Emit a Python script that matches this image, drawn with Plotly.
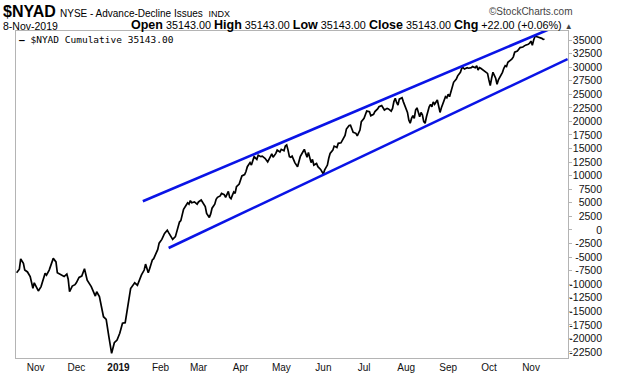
import plotly.graph_objects as go

# ---- data ----
dates = [
    "2018-10-15", "2018-10-17", "2018-10-18", "2018-10-20", "2018-10-21", "2018-10-23",
    "2018-10-25", "2018-10-27", "2018-10-28", "2018-10-31", "2018-11-02", "2018-11-05",
    "2018-11-06", "2018-11-08", "2018-11-11", "2018-11-13", "2018-11-14", "2018-11-17",
    "2018-11-19", "2018-11-21", "2018-11-22", "2018-11-23", "2018-11-25", "2018-11-27",
    "2018-11-28", "2018-11-30", "2018-12-02", "2018-12-04", "2018-12-06", "2018-12-09",
    "2018-12-12", "2018-12-13", "2018-12-15", "2018-12-18", "2018-12-20", "2018-12-22",
    "2018-12-24", "2018-12-26", "2018-12-28", "2018-12-30", "2019-01-01", "2019-01-03",
    "2019-01-05", "2019-01-07", "2019-01-10", "2019-01-12", "2019-01-15", "2019-01-17",
    "2019-01-18", "2019-01-20", "2019-01-21", "2019-01-23", "2019-01-24", "2019-01-26",
    "2019-01-27", "2019-01-28", "2019-01-30", "2019-02-01", "2019-02-03", "2019-02-04",
    "2019-02-06", "2019-02-07", "2019-02-09", "2019-02-10", "2019-02-11", "2019-02-12",
    "2019-02-13", "2019-02-14", "2019-02-15", "2019-02-17", "2019-02-18", "2019-02-19",
    "2019-02-20", "2019-02-21", "2019-02-23", "2019-02-25", "2019-02-26", "2019-02-28",
    "2019-03-01", "2019-03-03", "2019-03-04", "2019-03-06", "2019-03-07", "2019-03-08",
    "2019-03-10", "2019-03-11", "2019-03-12", "2019-03-14", "2019-03-15", "2019-03-17",
    "2019-03-18", "2019-03-19", "2019-03-20", "2019-03-21", "2019-03-22", "2019-03-23",
    "2019-03-24", "2019-03-25", "2019-03-26", "2019-03-28", "2019-03-29", "2019-03-30",
    "2019-04-01", "2019-04-02", "2019-04-03", "2019-04-05", "2019-04-06", "2019-04-07",
    "2019-04-08", "2019-04-10", "2019-04-11", "2019-04-13", "2019-04-14", "2019-04-16",
    "2019-04-17", "2019-04-18", "2019-04-20", "2019-04-21", "2019-04-22", "2019-04-24",
    "2019-04-25", "2019-04-27", "2019-04-28", "2019-04-30", "2019-05-01", "2019-05-02",
    "2019-05-03", "2019-05-04", "2019-05-05", "2019-05-06", "2019-05-07", "2019-05-08",
    "2019-05-10", "2019-05-11", "2019-05-12", "2019-05-14", "2019-05-15", "2019-05-16",
    "2019-05-17", "2019-05-18", "2019-05-19", "2019-05-20", "2019-05-21", "2019-05-22",
    "2019-05-24", "2019-05-25", "2019-05-27", "2019-05-28", "2019-05-29", "2019-05-30",
    "2019-06-01", "2019-06-02", "2019-06-03", "2019-06-05", "2019-06-06", "2019-06-08",
    "2019-06-09", "2019-06-11", "2019-06-12", "2019-06-14", "2019-06-15", "2019-06-17",
    "2019-06-18", "2019-06-19", "2019-06-20", "2019-06-22", "2019-06-23", "2019-06-25",
    "2019-06-26", "2019-06-28", "2019-06-29", "2019-06-30", "2019-07-02", "2019-07-03",
    "2019-07-05", "2019-07-06", "2019-07-08", "2019-07-09", "2019-07-11", "2019-07-12",
    "2019-07-13", "2019-07-15", "2019-07-16", "2019-07-18", "2019-07-19", "2019-07-20",
    "2019-07-21", "2019-07-22", "2019-07-23", "2019-07-24", "2019-07-26", "2019-07-27",
    "2019-07-29", "2019-07-30", "2019-07-31", "2019-08-01", "2019-08-02", "2019-08-03",
    "2019-08-04", "2019-08-05", "2019-08-06", "2019-08-07", "2019-08-08", "2019-08-09",
    "2019-08-10", "2019-08-11", "2019-08-12", "2019-08-13", "2019-08-14", "2019-08-15",
    "2019-08-16", "2019-08-17", "2019-08-18", "2019-08-19", "2019-08-21", "2019-08-22",
    "2019-08-23", "2019-08-24", "2019-08-25", "2019-08-26", "2019-08-27", "2019-08-28",
    "2019-08-29", "2019-08-30", "2019-08-31", "2019-09-01", "2019-09-02", "2019-09-04",
    "2019-09-05", "2019-09-07", "2019-09-08", "2019-09-09", "2019-09-10", "2019-09-12",
    "2019-09-13", "2019-09-15", "2019-09-16", "2019-09-18", "2019-09-19", "2019-09-20",
    "2019-09-21", "2019-09-22", "2019-09-24", "2019-09-25", "2019-09-27", "2019-09-28",
    "2019-09-29", "2019-09-30", "2019-10-01", "2019-10-03", "2019-10-04", "2019-10-05",
    "2019-10-07", "2019-10-08", "2019-10-09", "2019-10-10", "2019-10-11", "2019-10-12",
    "2019-10-14", "2019-10-15", "2019-10-16", "2019-10-17", "2019-10-19", "2019-10-20",
    "2019-10-21", "2019-10-23", "2019-10-24", "2019-10-25", "2019-10-27", "2019-10-28",
    "2019-10-29", "2019-10-30", "2019-10-31", "2019-11-01", "2019-11-03", "2019-11-05",
    "2019-11-06", "2019-11-07", "2019-11-08",
]
nyad = [
    -7900, -7250, -5350, -6150, -7400, -7750,
    -8600, -10750, -9750, -11250, -10450, -8000,
    -8350, -7400, -5250, -5900, -7900, -8250,
    -8600, -8150, -9100, -11400, -10350, -10100,
    -9750, -8750, -8500, -7150, -9250, -10450,
    -12200, -11400, -12300, -16000, -16500, -19700,
    -22750, -20800, -20300, -19050, -17200, -17100,
    -13550, -10800, -9750, -10200, -8300, -7400,
    -6300, -7900, -7150, -5550, -5300, -4300,
    -3600, -2450, -1750, -650, -50, -500,
    -1250, -1750, -1250, -150, 900, 1450,
    1700, 2750, 3800, 4600, 5000, 4750,
    5400, 5000, 5150, 4750, 5150, 5500,
    5150, 4300, 3050, 2300, 2950, 4000,
    4750, 5650, 6000, 6250, 6750, 6500,
    6000, 6750, 7100, 6000, 5750, 6400,
    7000, 6750, 7950, 8450, 9200, 9950,
    10200, 10750, 11650, 12400, 11950, 12900,
    13500, 13000, 13750, 13500, 13600, 13200,
    12900, 12550, 13500, 14000, 13400, 14100,
    14700, 14350, 14850, 14600, 15450, 15650,
    14700, 13500, 13400, 13600, 13000, 12400,
    11650, 12550, 13500, 14400, 14850, 14100,
    13400, 14250, 13500, 12400, 13000, 11950,
    12250, 11650, 11150, 10550, 10300, 11050,
    11950, 13200, 14100, 14700, 15450, 15200,
    15950, 16050, 16450, 17400, 18600, 19250,
    19300, 18500, 18000, 17800, 17350, 18400,
    19950, 20550, 21200, 21900, 21800, 21050,
    21300, 21800, 22300, 22700, 22900, 22500,
    22100, 22400, 22300, 21900, 22400, 23650,
    24250, 23500, 23000, 24100, 24350, 23600,
    22500, 21650, 20250, 19650, 20550, 21050,
    20550, 22100, 22500, 21500, 20850, 21650,
    21200, 19950, 19650, 20850, 21900, 22700,
    23150, 22700, 23600, 23150, 23950, 22400,
    21650, 22500, 23150, 23600, 24550, 24350,
    25000, 24550, 25350, 26400, 27200, 27800,
    28400, 29050, 29800, 29900, 29650, 29900,
    29800, 29900, 30100, 29900, 30250, 29450,
    29900, 29800, 29450, 29150, 28850, 27650,
    26600, 27950, 29050, 27950, 26850, 27650,
    28550, 29050, 29800, 30250, 30100, 30900,
    31300, 31500, 31900, 32750, 32950, 33350,
    33600, 33700, 33950, 34050, 34200, 34400,
    34800, 34050, 35000, 35700, 35550, 35450,
    35300, 35121, 35143,
]

# hand-drawn trend channel (end points)
upper_dates = ["2019-01-16", "2019-11-11"]
upper_vals = [5270, 36930]
lower_dates = ["2019-02-04", "2019-11-25"]
lower_vals = [-3340, 31480]

month_ticks = ["2018-11-01", "2018-12-01", "2019-01-01", "2019-02-01", "2019-03-01",
               "2019-04-01", "2019-05-01", "2019-06-01", "2019-07-01", "2019-08-01",
               "2019-09-01", "2019-10-01", "2019-11-01"]
month_labels = ["Nov", "Dec", "<b>2019</b>", "Feb", "Mar", "Apr", "May", "Jun", "Jul",
                "Aug", "Sep", "Oct", "Nov"]

y_tick_vals = [35000, 32500, 30000, 27500, 25000, 22500, 20000, 17500, 15000, 12500,
               10000, 7500, 5000, 2500, 0, -2500, -5000, -7500, -10000, -12500,
               -15000, -17500, -20000, -22500]
y_tick_labels = ["35000", "32500", "30000", "27500", "25000", "22500", "20000", "17500",
                 "15000", "12500", "10000", "7500", "5000", "2500", "0", "-2500",
                 "-5000", "-7500", "-10000", "-12500", "-15000", "-17500", "-20000",
                 "-22500"]

x_range = ["2018-10-14 13:00", "2019-11-25 07:00"]
y_range = [-23610, 36660]

FONT = "Liberation Sans"
BORDER = "#b4b4b4"
BLUE = "#0a14e6"

fig = go.Figure()
# channel lines drawn on the overlay axis (same range as the main one)
fig.add_trace(go.Scatter(x=upper_dates, y=upper_vals, mode="lines", yaxis="y2",
                         line=dict(color=BLUE, width=2.6), hoverinfo="skip"))
fig.add_trace(go.Scatter(x=lower_dates, y=lower_vals, mode="lines", yaxis="y2",
                         line=dict(color=BLUE, width=2.6), hoverinfo="skip"))
fig.add_trace(go.Scatter(x=dates, y=nyad, mode="lines", name="$NYAD Cumulative",
                         line=dict(color="#000000", width=1.7)))

W, H = 620, 376
ML, MR, MT, MB = 16, 8, 31, 18
area_w = W - ML - MR
area_h = H - MT - MB
plot_right = 568


def px(x):
    return (x - ML) / area_w


def py(y):
    return 1 + (MT - y) / area_h


fig.update_layout(
    width=W, height=H,
    margin=dict(l=ML, r=MR, t=MT, b=MB, pad=0, autoexpand=False),
    paper_bgcolor="white", plot_bgcolor="white",
    showlegend=False,
    font=dict(family=FONT, size=10, color="#000"),
    xaxis=dict(
        domain=[0, (plot_right - ML) / area_w], type="date", range=x_range,
        tickmode="array", tickvals=month_ticks, ticktext=month_labels,
        ticklabelshift=-4,
        showline=True, mirror=True, linecolor=BORDER, linewidth=1,
        ticks="", showgrid=False, zeroline=False, automargin=False,
        tickfont=dict(family=FONT, size=10, color="#111"),
    ),
    yaxis=dict(
        side="right", range=y_range, tickmode="array", tickvals=y_tick_vals,
        ticks="outside", ticklen=3, tickcolor=BORDER, showticklabels=False,
        showline=True, mirror=True, linecolor=BORDER, linewidth=1,
        showgrid=False, zeroline=False, automargin=False,
    ),
    yaxis2=dict(
        overlaying="y", side="left", anchor="free", position=px(602),
        range=y_range, tickmode="array", tickvals=y_tick_vals, ticktext=y_tick_labels,
        ticks="", showline=False, showgrid=False, zeroline=False, automargin=False,
        tickfont=dict(family=FONT, size=10.5, color="#111"),
    ),
)

ann = [
    dict(text="<b>$NYAD</b>", x=px(1), y=py(12), font=dict(size=16), xanchor="left"),
    dict(text=("NYSE - Advance-Decline Issues&nbsp;&nbsp;"
               "<span style='font-size:9px'>INDX</span>"),
         x=px(58), y=py(13.5), font=dict(size=10), xanchor="left"),
    dict(text="©StockCharts.com", x=px(575), y=py(12), font=dict(size=10, color="#444"),
         xanchor="right"),
    dict(text="8-Nov-2019", x=px(1), y=py(25.5), font=dict(size=10.5), xanchor="left"),
    dict(text=("<span style='font-size:12.5px'><b>Open</b></span> 35143.00 "
               "<span style='font-size:12.5px'><b>High</b></span> 35143.00 "
               "<span style='font-size:12.5px'><b>Low</b></span> 35143.00 "
               "<span style='font-size:12.5px'><b>Close</b></span> 35143.00 "
               "<span style='font-size:12.5px'><b>Chg</b></span> +22.00 (+0.06%) "
               "<span style='font-size:8px;color:#444'>▲</span>"),
         x=px(575), y=py(25), font=dict(size=10.8), xanchor="right"),
    dict(text="<b>—</b> $NYAD Cumulative 35143.00", x=px(17), y=py(39),
         font=dict(size=9.5, family="DejaVu Sans Mono"), xanchor="left"),
]
for a in ann:
    a.update(xref="paper", yref="paper", yanchor="middle", showarrow=False)
    a["font"] = dict(family=a["font"].get("family", FONT),
                     color=a["font"].get("color", "#000"),
                     size=a["font"]["size"])
fig.update_layout(annotations=ann)

fig.write_html("out.html", config={"displayModeBar": False},
               post_script="document.body.style.margin='0';"
                           "document.body.style.overflow='hidden';")
